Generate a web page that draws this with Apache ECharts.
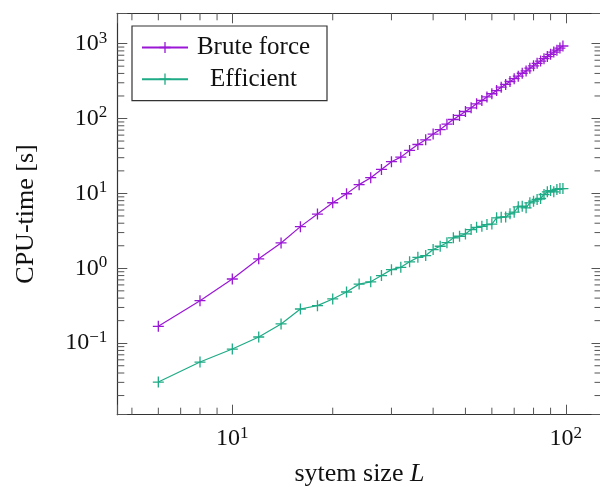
<!DOCTYPE html>
<html>
<head>
<meta charset="utf-8">
<title>CPU-time vs system size</title>
<script src="https://cdn.jsdelivr.net/npm/echarts@6.0.0/dist/echarts.min.js"></script>
<style>
html, body { margin: 0; padding: 0; background: #fff; }
#chart { width: 600px; height: 487px; }
</style>
</head>
<body>
<div id="chart"></div>
<script>
// system sizes L
var sizes = [6, 8, 10, 12, 14, 16, 18, 20, 22, 24, 26, 28, 30, 32, 34, 36, 38, 40, 42, 44,
  46, 48, 50, 52, 54, 56, 58, 60, 62, 64, 66, 68, 70, 72, 74, 76, 78, 80, 82, 84, 86, 88,
  90, 92, 94, 96, 98];
// CPU-time [s]
var bruteForce = [0.168, 0.37, 0.72, 1.34, 2.18, 3.6, 5.3, 7.5, 9.9, 13.1, 16.2, 20.9, 26.5,
  30.5, 37.5, 45, 52, 62, 71, 84, 97, 110, 124, 139, 157, 174, 194, 214, 236, 262, 285, 312,
  340, 368, 402, 432, 470, 505, 545, 585, 630, 672, 720, 770, 818, 872, 930];
var efficient = [0.0303, 0.056, 0.0836, 0.121, 0.181, 0.286, 0.317, 0.39, 0.483, 0.615, 0.66,
  0.80, 0.96, 1.03, 1.22, 1.40, 1.48, 1.78, 1.97, 2.2, 2.55, 2.68, 2.88, 3.29, 3.53, 3.64,
  3.84, 3.9, 4.72, 4.81, 4.85, 5.34, 5.61, 6.62, 6.74, 6.42, 7.49, 7.87, 8.29, 8.55, 9.67,
  10.5, 10.9, 10.5, 11.3, 11.6, 11.6];
// minor tick values (log axes)
var xMinorTicks = [5, 6, 7, 8, 9, 20, 30, 40, 50, 60, 70, 80, 90];
var yMinorTicks = [0.02, 0.03, 0.04, 0.05, 0.06, 0.07, 0.08, 0.09,
  0.2, 0.3, 0.4, 0.5, 0.6, 0.7, 0.8, 0.9,
  2, 3, 4, 5, 6, 7, 8, 9,
  20, 30, 40, 50, 60, 70, 80, 90,
  200, 300, 400, 500, 600, 700, 800, 900];

var serif = '"Liberation Serif", "DejaVu Serif", serif';
var frameColor = '#333';
var tickColor = '#555';

function makePoints(ys) {
  return sizes.map(function (x, i) { return [x, ys[i]]; });
}

// only label exact powers of ten
function powLabel(v) {
  var l = Math.log10(v);
  var e = Math.round(l);
  if (Math.abs(l - e) > 1e-6) return '';
  return '{b|10}{s|' + (e < 0 ? '\u2212' + (-e) : e) + '}';
}

var labelRich = {
  b: { fontFamily: serif, fontSize: 24, lineHeight: 28, color: '#111' },
  s: { fontFamily: serif, fontSize: 17, lineHeight: 16, verticalAlign: 'top', color: '#111' }
};

var plusSymbol = 'path://M0,5L10,5M5,0L5,10';

function logAxis(extra) {
  var ax = {
    type: 'log',
    logBase: 10,
    axisLine: { show: true, lineStyle: { color: frameColor, width: 1.2 } },
    axisTick: { show: true, inside: true, length: 10, lineStyle: { color: tickColor, width: 1 } },
    axisLabel: { show: false },
    splitLine: { show: false },
    minorTick: { show: false },
    minorSplitLine: { show: false }
  };
  for (var k in extra) ax[k] = extra[k];
  return ax;
}

var tickData = xMinorTicks.map(function (v) { return [v, 1, 0]; })
  .concat(yMinorTicks.map(function (v) { return [10, v, 1]; }));

var chart = echarts.init(document.getElementById('chart'));

var option = {
  animation: false,
  backgroundColor: '#fff',
  grid: { left: 117.3, top: 13.3, right: -1.5, bottom: 72.3, containLabel: false, outerBoundsMode: 'none' },
  legend: {
    data: ['Brute force', 'Efficient'],
    orient: 'vertical',
    left: 132,
    top: 26,
    padding: [9, 13, 9, 9],
    itemGap: 6.7,
    itemWidth: 46,
    itemHeight: 14,
    backgroundColor: '#fff',
    borderColor: frameColor,
    borderWidth: 1.2,
    itemStyle: { borderWidth: 1.3, borderColor: 'inherit' },
    formatter: function (n) { return '{t|' + n + '}'; },
    textStyle: {
      rich: {
        t: { width: 121, align: 'center', fontFamily: serif, fontSize: 25, lineHeight: 26, color: '#111' }
      }
    }
  },
  xAxis: [
    logAxis({
      min: 4.52, max: 127.9, position: 'bottom',
      name: '{n|sytem size }{i|L}',
      nameLocation: 'middle',
      nameGap: 46,
      nameTextStyle: {
        rich: {
          n: { fontFamily: serif, fontSize: 26, color: '#111' },
          i: { fontFamily: serif, fontSize: 26, fontStyle: 'italic', color: '#111' }
        }
      },
      axisLabel: { show: true, margin: 10, formatter: powLabel, rich: labelRich }
    }),
    logAxis({ min: 4.52, max: 127.9, position: 'top' })
  ],
  yAxis: [
    logAxis({
      min: 0.0111, max: 2540, position: 'left',
      name: 'CPU-time [s]',
      nameLocation: 'middle',
      nameGap: 78,
      nameTextStyle: { fontFamily: serif, fontSize: 26, color: '#111' },
      axisLabel: { show: true, margin: 10, formatter: powLabel, rich: labelRich }
    }),
    logAxis({ min: 0.0111, max: 2540, position: 'right' })
  ],
  series: [
    {
      name: 'Brute force',
      type: 'line',
      data: makePoints(bruteForce),
      symbol: plusSymbol,
      symbolSize: 11,
      color: '#9b17d6',
      itemStyle: { color: '#9b17d6', borderColor: '#9b17d6', borderWidth: 1.3 },
      lineStyle: { color: '#9b17d6', width: 1.2 }
    },
    {
      name: 'Efficient',
      type: 'line',
      data: makePoints(efficient),
      symbol: plusSymbol,
      symbolSize: 11,
      color: '#1eab86',
      itemStyle: { color: '#1eab86', borderColor: '#1eab86', borderWidth: 1.3 },
      lineStyle: { color: '#1eab86', width: 1.2 }
    },
    {
      // minor ticks on all four sides of the frame
      name: 'minorTicks',
      type: 'custom',
      silent: true,
      clip: false,
      data: tickData,
      renderItem: function (params, api) {
        var cs = params.coordSys;
        var p = api.coord([api.value(0), api.value(1)]);
        var style = { stroke: tickColor, lineWidth: 1 };
        if (api.value(2) === 0) {
          return {
            type: 'group',
            children: [
              { type: 'line', shape: { x1: p[0], y1: cs.y + cs.height, x2: p[0], y2: cs.y + cs.height - 7 }, style: style },
              { type: 'line', shape: { x1: p[0], y1: cs.y, x2: p[0], y2: cs.y + 7 }, style: style }
            ]
          };
        }
        return {
          type: 'group',
          children: [
            { type: 'line', shape: { x1: cs.x, y1: p[1], x2: cs.x + 7, y2: p[1] }, style: style },
            { type: 'line', shape: { x1: cs.x + cs.width, y1: p[1], x2: cs.x + cs.width - 7, y2: p[1] }, style: style }
          ]
        };
      }
    }
  ]
};

chart.setOption(option);
</script>
</body>
</html>
